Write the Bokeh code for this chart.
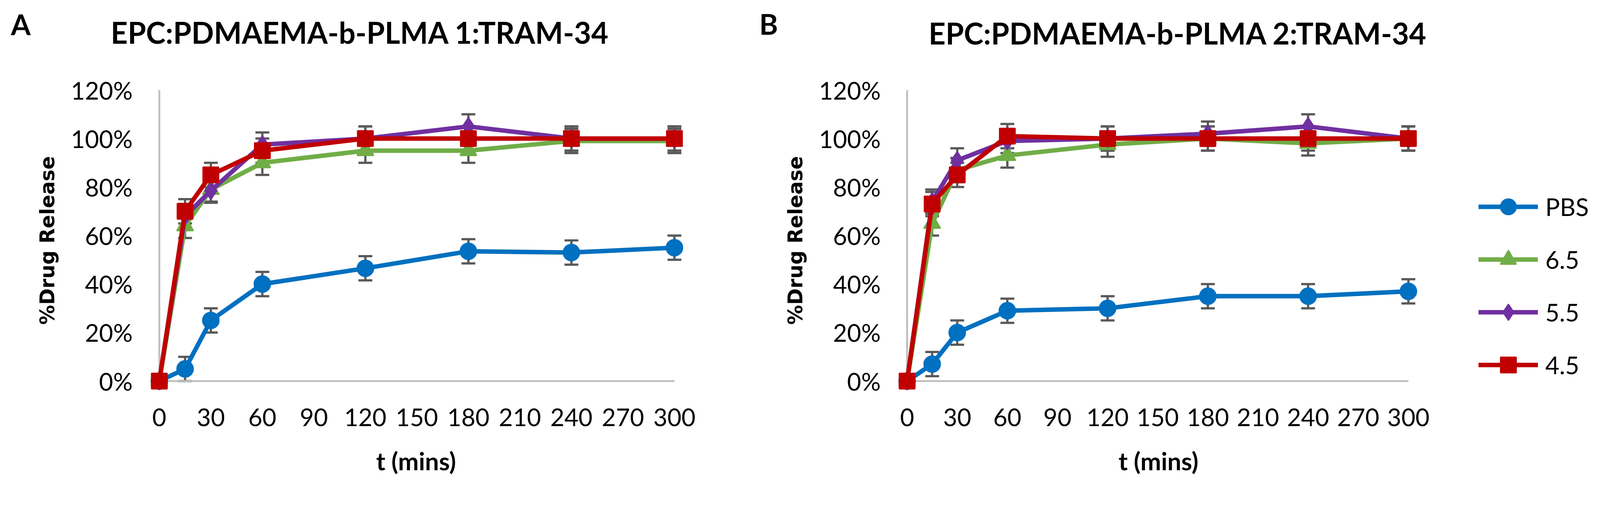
from bokeh.plotting import figure
from bokeh.layouts import row, column
from bokeh.models import (ColumnDataSource, Whisker, TeeHead, Legend, LegendItem,
                          FixedTicker, NumeralTickFormatter, Range1d)
from bokeh.core.properties import value
from bokeh.embed import file_html
from bokeh.resources import INLINE

# ---------------- data ----------------
t_mins = [0, 15, 30, 60, 120, 180, 240, 300]
series_names = ["PBS", "6.5", "5.5", "4.5"]

a_pbs = [0.00, 0.05, 0.25, 0.40, 0.465, 0.535, 0.53, 0.55]
a_65 = [0.00, 0.64, 0.79, 0.90, 0.95, 0.95, 0.99, 0.99]
a_55 = [0.00, 0.68, 0.785, 0.975, 1.00, 1.05, 1.00, 1.00]
a_45 = [0.00, 0.70, 0.85, 0.95, 1.00, 1.00, 1.00, 1.00]

b_pbs = [0.00, 0.07, 0.20, 0.29, 0.30, 0.35, 0.35, 0.37]
b_65 = [0.00, 0.65, 0.87, 0.93, 0.975, 1.00, 0.98, 1.00]
b_55 = [0.00, 0.74, 0.91, 0.99, 1.00, 1.02, 1.05, 1.00]
b_45 = [0.00, 0.73, 0.85, 1.01, 1.00, 1.00, 1.00, 1.00]

err = [0.00, 0.05, 0.05, 0.05, 0.05, 0.05, 0.05, 0.05]

x_ticks = [0, 30, 60, 90, 120, 150, 180, 210, 240, 270, 300]
y_ticks = [0.0, 0.2, 0.4, 0.6, 0.8, 1.0, 1.2]

panel_letters = ["A", "B"]
panel_titles = ["EPC:PDMAEMA-b-PLMA 1:TRAM-34", "EPC:PDMAEMA-b-PLMA 2:TRAM-34"]
x_titles = ["t (mins)", "t (mins)"]
y_title = "%Drug Release"

# ---------------- styles / layout ----------------
# The page is shown slightly magnified; all pixel sizes below are target
# pixels divided by this factor.
K = 1.045
TEXT_SHIFT = 24  # baseline correction for text glyphs (px)


def S(v):
    return v / K


def L(v):
    # target picture pixel -> local CSS pixel inside the 8px page margin
    return v / K - 8


colors = ["#0070C0", "#70AD47", "#7030A0", "#C00000"]
markers = ["circle", "triangle", "diamond", "square"]
msizes = [S(42), S(42), S(44), S(40)]
ERR_COLOR = "#595959"
AXIS_COLOR = "#BFBFBF"
FONT = "Lato"
X_PAD = 6
Y_PAD = 0.04

CONTENT_W = round(4292 / K - 16)
CONTENT_H = round(1316 / K - 16)
HEADER_H = round(L(200))
FOOTER_TOP = round(L(1198))
FOOTER_H = CONTENT_H - FOOTER_TOP
PANEL_H = FOOTER_TOP - HEADER_H
BORDER_TOP = round(L(249)) - HEADER_H
FRAME_BOTTOM = round(L(1053.4)) - HEADER_H
BORDER_BOTTOM = PANEL_H - FRAME_BOTTOM
W_A = round(L(2008))
W_B = CONTENT_W - W_A

# header / footer text positions (local pixels inside each strip, y downward)
letter_pos_x = [L(37), L(2039)]
letter_pos_y = [L(97) - TEXT_SHIFT, L(96) - TEXT_SHIFT]
title_pos_x = [L(971), L(3159)]
title_pos_y = [L(119) - TEXT_SHIFT, L(121) - TEXT_SHIFT]
xlabel_pos_x = [L(1121), L(3107)]
xlabel_pos_y = [L(1265) - FOOTER_TOP - TEXT_SHIFT, L(1265) - FOOTER_TOP - TEXT_SHIFT]


def make_strip(height, xs_list, ys_list, texts_list, sizes, aligns):
    s = figure(width=CONTENT_W, height=height, output_backend="svg", toolbar_location=None,
               x_range=Range1d(0, CONTENT_W), y_range=Range1d(height, 0),
               x_axis_type=None, y_axis_type=None, min_border=0)
    s.outline_line_color = None
    s.background_fill_color = "white"
    for xs, ys, texts, size, align in zip(xs_list, ys_list, texts_list, sizes, aligns):
        s.text(x=xs, y=ys, text=texts,
               text_font=value(FONT), text_font_style=value("bold"),
               text_font_size=value(size), text_align=value(align),
               text_baseline=value("alphabetic"), text_color=value("black"))
    return s


def make_panel(width, border_left, border_right, ppm, data, legend_loc=None):
    frame_w = width - border_left - border_right
    x0 = x_ticks[0] - X_PAD
    p = figure(width=width, height=PANEL_H, output_backend="svg", toolbar_location=None,
               x_range=Range1d(x0, x0 + frame_w / ppm),
               y_range=Range1d(y_ticks[0] - Y_PAD, y_ticks[-1]),
               min_border_left=border_left, min_border_right=border_right,
               min_border_top=BORDER_TOP, min_border_bottom=BORDER_BOTTOM)
    p.outline_line_color = None
    p.xgrid.visible = False
    p.ygrid.visible = False
    p.background_fill_color = "white"

    for ax in (p.xaxis[0], p.yaxis[0]):
        ax.axis_line_color = None
        ax.major_tick_line_color = None
        ax.minor_tick_line_color = None
        ax.major_tick_out = 0
        ax.major_tick_in = 0
        ax.major_label_text_font = FONT
        ax.major_label_text_font_size = "%.1fpx" % S(65)
        ax.major_label_text_color = "black"
    p.xaxis.ticker = FixedTicker(ticks=x_ticks)
    p.yaxis.ticker = FixedTicker(ticks=y_ticks)
    p.yaxis.formatter = NumeralTickFormatter(format="0%")
    p.xaxis.major_label_standoff = 45
    p.yaxis.major_label_standoff = round(S(44))

    p.yaxis.axis_label = y_title
    p.yaxis.axis_label_text_font = "DejaVu Sans"
    p.yaxis.axis_label_text_font_style = "bold"
    p.yaxis.axis_label_text_font_size = "%.1fpx" % S(53)
    p.yaxis.axis_label_standoff = 27
    p.yaxis.axis_label_text_color = "black"

    # axis lines only over the data extent, like the original
    p.segment(x0=[x_ticks[0], x_ticks[0]], y0=[y_ticks[0], y_ticks[0]],
              x1=[x_ticks[-1], x_ticks[0]], y1=[y_ticks[0], y_ticks[-1]],
              line_color=AXIS_COLOR, line_width=S(5))

    for vals in data:
        src = ColumnDataSource(dict(t=t_mins,
                                    upper=[v + e for v, e in zip(vals, err)],
                                    lower=[v - e for v, e in zip(vals, err)]))
        w = Whisker(base="t", upper="upper", lower="lower", source=src,
                    dimension="height", line_color=ERR_COLOR, line_width=S(6),
                    upper_head=TeeHead(size=S(37), line_color=ERR_COLOR, line_width=S(6)),
                    lower_head=TeeHead(size=S(37), line_color=ERR_COLOR, line_width=S(6)))
        p.add_layout(w)

    items = []
    for name, vals, c, m, s in zip(series_names, data, colors, markers, msizes):
        lr = p.line(t_mins, vals, line_color=c, line_width=S(12),
                    line_join="round", line_cap="round")
        sr = p.scatter(t_mins, vals, marker=m, size=s, fill_color=c, line_color=c,
                       line_width=S(5), line_join="round")
        items.append(LegendItem(label=name, renderers=[lr, sr]))

    if legend_loc is not None:
        lg = Legend(items=items, location=legend_loc, glyph_width=round(S(159)),
                    glyph_height=round(S(100)), spacing=round(S(41)), padding=0, margin=0,
                    label_standoff=round(S(20)), label_text_font=FONT,
                    label_text_font_size="%.1fpx" % S(65), label_text_color="black",
                    border_line_color=None, background_fill_alpha=0)
        p.add_layout(lg)
    return p


header = make_strip(HEADER_H, [letter_pos_x, title_pos_x], [letter_pos_y, title_pos_y],
                    [panel_letters, panel_titles],
                    ["%.1fpx" % S(76), "%.1fpx" % S(79)], ["left", "center"])
footer = make_strip(FOOTER_H, [xlabel_pos_x], [xlabel_pos_y], [x_titles],
                    ["%.1fpx" % S(66)], ["center"])

# panel A: data 0..300 spans 434..1812 target px; panel B: 2435..3776
ppm_a = S((1812 - 434) / 300)
ppm_b = S((3776 - 2435) / 300)
left_a = round(L(434 - X_PAD * (1812 - 434) / 300))
left_b = round(L(2435 - X_PAD * (3776 - 2435) / 300)) - W_A
right_a = W_A - left_a - round((x_ticks[-1] - x_ticks[0] + 2 * X_PAD) * ppm_a)

frame_b_left_page = 8 + W_A + left_b
frame_b_bottom_page = 8 + HEADER_H + FRAME_BOTTOM
legend_loc = (round(3964 / K - frame_b_left_page), round(frame_b_bottom_page - 1035 / K))

pA = make_panel(W_A, left_a, right_a, ppm_a, [a_pbs, a_65, a_55, a_45])
pB = make_panel(W_B, left_b, 0, ppm_b, [b_pbs, b_65, b_55, b_45], legend_loc=legend_loc)

layout = column(header, row(pA, pB), footer)
open("out.html", "w").write(file_html(layout, INLINE))
